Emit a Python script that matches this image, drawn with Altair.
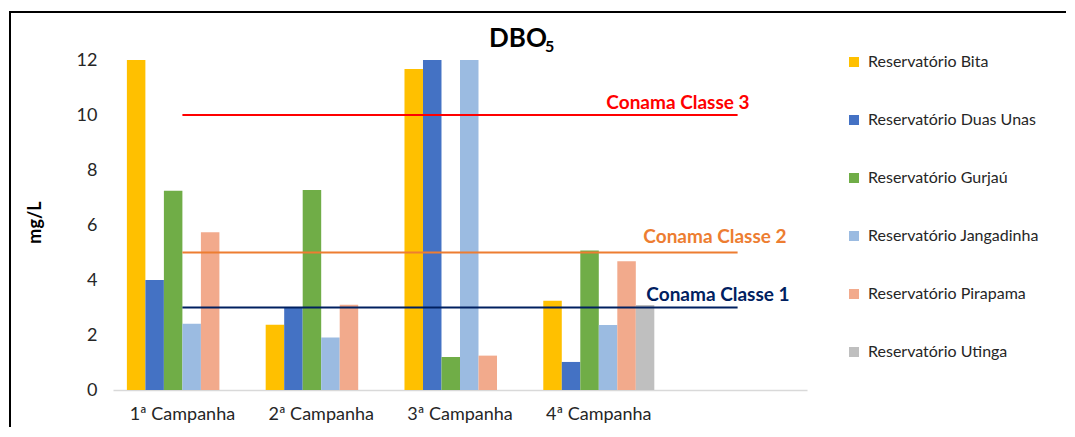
import altair as alt
import pandas as pd

campanhas = ["1ª Campanha", "2ª Campanha", "3ª Campanha", "4ª Campanha"]
x_domain = campanhas + [" "]
reservatorios = ["Reservatório Bita", "Reservatório Duas Unas", "Reservatório Gurjaú",
                 "Reservatório Jangadinha", "Reservatório Pirapama", "Reservatório Utinga"]
cores = ["#FFC000", "#4472C4", "#70AD47", "#9BBBE1", "#F2AA8C", "#BFBFBF"]

bita = [12.0, 2.37, 11.67, 3.25]
duas_unas = [4.0, 3.0, 12.0, 1.02]
gurjau = [7.25, 7.27, 1.2, 5.07]
jangadinha = [2.41, 1.91, 12.0, 2.36]
pirapama = [5.74, 3.1, 1.25, 4.68]
utinga = [None, None, None, 3.09]

classes = ["Conama Classe 1", "Conama Classe 2", "Conama Classe 3"]
limites = [3, 5, 10]
cores_classes = ["#002060", "#ED7D31", "#FF0000"]
dx_labels = [52, 49, 12]
dy_labels = [-13, -16, -12]

series = [bita, duas_unas, gurjau, jangadinha, pirapama, utinga]
rows = []
for r, vals in zip(reservatorios, series):
    for c, v in zip(campanhas, vals):
        if v is not None:
            rows.append({"campanha": c, "reservatorio": r, "valor": v})
df = pd.DataFrame(rows)

line_rows = []
for cl, lim in zip(classes, limites):
    for c in x_domain:
        line_rows.append({"campanha": c, "classe": cl, "valor": lim})
df_lines = pd.DataFrame(line_rows)

FONT = "Lato"

xscale = alt.Scale(domain=x_domain, paddingInner=0.2, paddingOuter=0.1)
yscale = alt.Scale(domain=[0, 12], nice=False)

bars = alt.Chart(df).mark_bar(size=18.5).encode(
    x=alt.X("campanha:N", scale=xscale, sort=x_domain,
            axis=alt.Axis(title=None, labelAngle=0, ticks=False, domainColor="#D9D9D9",
                          domainWidth=1.5, labelFontSize=18, labelFont=FONT, labelColor="#262626",
                          labelPadding=15,
                          labelExpr="datum.value == ' ' ? '' : datum.value")),
    xOffset=alt.XOffset("reservatorio:N", scale=alt.Scale(domain=reservatorios, paddingInner=0, paddingOuter=0)),
    y=alt.Y("valor:Q", scale=yscale,
            axis=alt.Axis(title="mg/L", values=[0, 2, 4, 6, 8, 10, 12], grid=False, ticks=False,
                          domain=False, labelFontSize=18, labelFont=FONT, labelColor="#262626",
                          labelPadding=16, titleFont=FONT, titleFontSize=18, titleFontWeight="bold",
                          titleColor="#000000", titleAngle=-90, titleBaseline="middle",
                          titleAlign="center", titleX=-78, titleY=162)),
    color=alt.Color("reservatorio:N", scale=alt.Scale(domain=reservatorios, range=cores),
                    legend=alt.Legend(title=None, orient="none", legendX=733, legendY=-6,
                                      symbolType="square", symbolSize=100, symbolStrokeWidth=0,
                                      labelFont=FONT, labelFontSize=16, labelColor="#262626",
                                      labelLimit=0, rowPadding=42, labelOffset=6)),
)

lines = alt.Chart(df_lines).mark_line(strokeWidth=1.8).encode(
    x=alt.X("campanha:N", scale=xscale, sort=x_domain),
    y=alt.Y("valor:Q", scale=yscale),
    detail="classe:N",
    stroke=alt.Stroke("classe:N", scale=alt.Scale(domain=classes, range=cores_classes), legend=None),
)

label_layers = []
for cl, lim, col, dx, dy in zip(classes, limites, cores_classes, dx_labels, dy_labels):
    t = alt.Chart(pd.DataFrame({"classe": [cl], "valor": [lim]})).mark_text(
        align="right", baseline="middle", dx=dx, dy=dy, font=FONT, fontSize=19,
        fontWeight="bold", color=col
    ).encode(
        x=alt.X("pos:N", scale=xscale),
        y=alt.Y("valor:Q", scale=yscale),
        text="classe:N",
    ).transform_calculate(pos="' '")
    label_layers.append(t)

one = pd.DataFrame({"k": [1]})
title_main = alt.Chart(one).mark_text(font=FONT, fontSize=26, fontWeight="bold", color="#000000",
                                      align="center", baseline="alphabetic").encode(
    x=alt.value(405), y=alt.value(-13), text=alt.value("DBO"))
title_sub = alt.Chart(one).mark_text(font=FONT, fontSize=16, fontWeight="bold", color="#000000",
                                     align="left", baseline="alphabetic").encode(
    x=alt.value(432), y=alt.value(-8), text=alt.value("5"))
frame = alt.Chart(one).mark_rect(fill=None, stroke="#000000", strokeWidth=2).encode(
    x=alt.value(-103), x2=alt.value(980), y=alt.value(-48), y2=alt.value(420))

chart = alt.layer(frame, bars, lines, *label_layers, title_main, title_sub).properties(
    width=694, height=330,
    autosize=alt.AutoSizeParams(type="none"),
    padding={"left": 105, "top": 52, "right": 259, "bottom": 37},
    background="white",
).configure_view(stroke=None)

chart.save("out.html", embed_options={"renderer": "svg", "actions": False})
